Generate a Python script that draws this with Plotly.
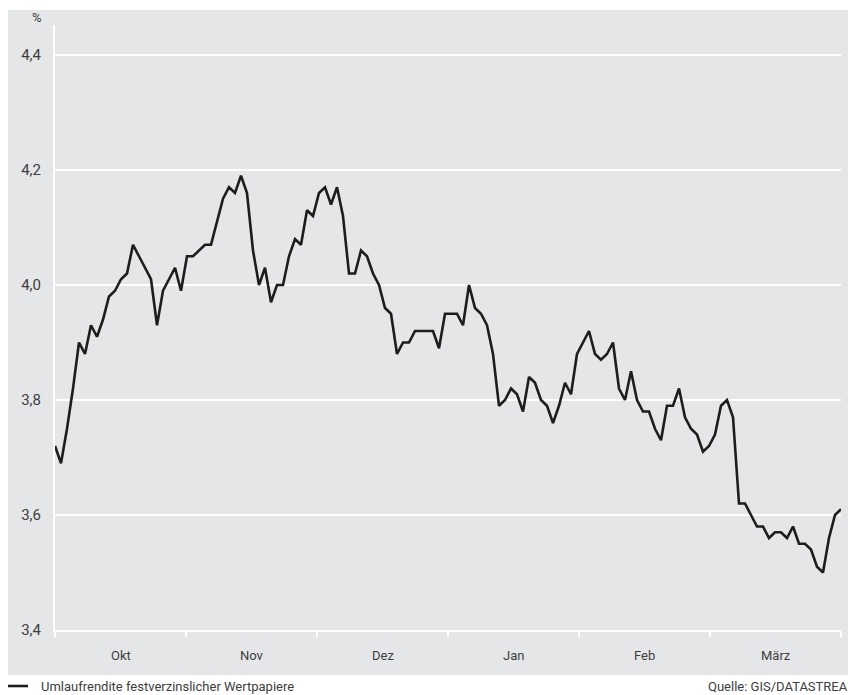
import plotly.graph_objects as go

# Umlaufrendite festverzinslicher Wertpapiere, business days Oct–Mar (in %)
yields = [
    3.72, 3.69, 3.75, 3.82, 3.90, 3.88, 3.93, 3.91, 3.94, 3.98,
    3.99, 4.01, 4.02, 4.07, 4.05, 4.03, 4.01, 3.93, 3.99, 4.01,
    4.03, 3.99, 4.05, 4.05, 4.06, 4.07, 4.07, 4.11, 4.15, 4.17,
    4.16, 4.19, 4.16, 4.06, 4.00, 4.03, 3.97, 4.00, 4.00, 4.05,
    4.08, 4.07, 4.13, 4.12, 4.16, 4.17, 4.14, 4.17, 4.12, 4.02,
    4.02, 4.06, 4.05, 4.02, 4.00, 3.96, 3.95, 3.88, 3.90, 3.90,
    3.92, 3.92, 3.92, 3.92, 3.89, 3.95, 3.95, 3.95, 3.93, 4.00,
    3.96, 3.95, 3.93, 3.88, 3.79, 3.80, 3.82, 3.81, 3.78, 3.84,
    3.83, 3.80, 3.79, 3.76, 3.79, 3.83, 3.81, 3.88, 3.90, 3.92,
    3.88, 3.87, 3.88, 3.90, 3.82, 3.80, 3.85, 3.80, 3.78, 3.78,
    3.75, 3.73, 3.79, 3.79, 3.82, 3.77, 3.75, 3.74, 3.71, 3.72,
    3.74, 3.79, 3.80, 3.77, 3.62, 3.62, 3.60, 3.58, 3.58, 3.56,
    3.57, 3.57, 3.56, 3.58, 3.55, 3.55, 3.54, 3.51, 3.50, 3.56,
    3.60, 3.61,
]
months = ["Okt", "Nov", "Dez", "Jan", "Feb", "März"]
y_ticks = [3.4, 3.6, 3.8, 4.0, 4.2, 4.4]
series_name = "Umlaufrendite festverzinslicher Wertpapiere"
source_text = "Quelle: GIS/DATASTREAM"

n = len(yields)
idx = list(range(n))
span = n - 1
month_w = span / len(months)
boundaries = [k * month_w for k in range(len(months) + 1)]
centers = [(k + 0.5) * month_w for k in range(len(months))]

W, H = 848, 695
L, R, T, B = 55, 7, 25, 65
pw, ph = W - L - R, H - T - B

def px_x(p):
    return (p - L) / pw

def px_y(p):
    return (H - B - p) / ph

GREY = "#e5e6e8"
FONT = "Roboto, Arial, sans-serif"
TXT = "#3e3e3e"
LINE = "#1d1d1b"

fig = go.Figure()
fig.add_trace(go.Scatter(
    x=idx, y=yields, mode="lines", name=series_name, showlegend=False,
    line=dict(color=LINE, width=2.6),
))

annotations = []
for c, m in zip(centers, months):
    annotations.append(dict(x=c, y=px_y(655), xref="x", yref="paper", text=m,
                            showarrow=False, xanchor="center", yanchor="middle",
                            font=dict(family=FONT, size=13, color=TXT)))
annotations.append(dict(x=px_x(44), y=px_y(18), xref="paper", yref="paper", text="%",
                        showarrow=False, xanchor="right", yanchor="middle",
                        font=dict(family=FONT, size=13, color=TXT)))
annotations.append(dict(x=px_x(39), y=px_y(686), xref="paper", yref="paper", text=series_name,
                        showarrow=False, xanchor="left", yanchor="middle",
                        font=dict(family=FONT, size=13, color=TXT)))
annotations.append(dict(x=px_x(706), y=px_y(686), xref="paper", yref="paper", text=source_text,
                        showarrow=False, xanchor="left", yanchor="middle",
                        font=dict(family=FONT, size=13, color=TXT)))

shapes = [
    dict(type="rect", xref="paper", yref="paper",
         x0=px_x(8), x1=px_x(W + 2), y0=px_y(675), y1=px_y(10),
         fillcolor=GREY, line=dict(width=0), layer="below"),
    dict(type="line", xref="paper", yref="paper",
         x0=px_x(8), x1=px_x(28), y0=px_y(686), y1=px_y(686),
         line=dict(color=LINE, width=2.6)),
]

fig.update_layout(
    width=W, height=H,
    margin=dict(l=L, r=R, t=T, b=B, pad=0, autoexpand=False),
    paper_bgcolor="white",
    plot_bgcolor=GREY,
    separators=",.",
    font=dict(family=FONT, color=TXT),
    showlegend=False,
    xaxis=dict(range=[0, span], tickmode="array", tickvals=boundaries,
               showticklabels=False, ticks="outside", ticklen=5, tickwidth=1.5,
               tickcolor="white", showgrid=False, zeroline=False,
               showline=True, linecolor="white", linewidth=2),
    yaxis=dict(range=[3.4, 3.4 + 0.2 * ph / 115], tickmode="array", tickvals=y_ticks,
               tickformat=".1f", ticks="", showgrid=True, gridcolor="white", gridwidth=1.5,
               zeroline=False, showline=True, linecolor="white", linewidth=2,
               ticklabelstandoff=9,
               tickfont=dict(family=FONT, size=15, color=TXT)),
    shapes=shapes,
    annotations=annotations,
)

fig.write_html("out.html", config={"displayModeBar": False},
               post_script="document.body.style.margin='0px';document.body.style.overflow='hidden';")
